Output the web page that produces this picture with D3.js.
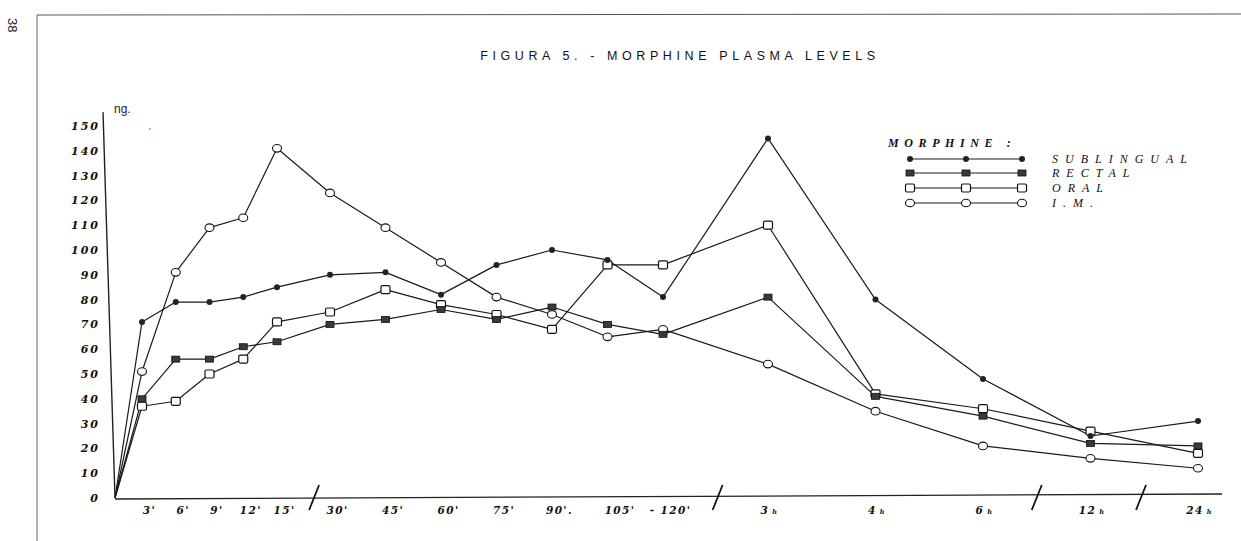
<!DOCTYPE html>
<html>
<head>
<meta charset="utf-8">
<script src="https://cdn.jsdelivr.net/npm/d3@7/dist/d3.min.js"></script>
<style>
  html, body { margin: 0; padding: 0; background: #fff; }
  svg { display: block; }
</style>
</head>
<body>
<div id="chart"></div>
<script>
// ---------- data ----------
const categories = ["0", "3'", "6'", "9'", "12'", "15'", "30'", "45'", "60'", "75'", "90'", "105'", "120'", "3h", "4h", "6h", "12h", "24h"];
const tickLabels = ["", "3'", "6'", "9'", "12'", "15'", "30'", "45'", "60'", "75'", "90'.", "105'", "- 120'", "3", "4", "6", "12", "24"];
const sublingual = [0, 71, 79, 79, 81, 85, 90, 91, 82, 94, 100, 96, 81, 145, 80, 48, 25, 31];
const rectal     = [0, 40, 56, 56, 61, 63, 70, 72, 76, 72, 77, 70, 66, 81, 41, 33, 22, 21];
const oral       = [0, 37, 39, 50, 56, 71, 75, 84, 78, 74, 68, 94, 94, 110, 42, 36, 27, 18];
const im         = [0, 51, 91, 109, 113, 141, 123, 109, 95, 81, 74, 65, 68, 54, 35, 21, 16, 12];
const seriesNames = ["SUBLINGUAL", "RECTAL", "ORAL", "I.M."];
const yTicks = [0, 10, 20, 30, 40, 50, 60, 70, 80, 90, 100, 110, 120, 130, 140, 150];
const breaks = [5.7, 12.52, 15.5, 16.47];

// ---------- setup ----------
const W = 1241, H = 541;
const svg = d3.select("#chart").append("svg").attr("width", W).attr("height", H);

const serif = "'DejaVu Serif', 'Liberation Serif', serif";
const lserif = "'Liberation Serif', 'DejaVu Serif', serif";
const sans = "'Liberation Sans', Arial, sans-serif";

// piecewise index scale (broken time axis)
const x = d3.scaleLinear()
  .domain([0, 1, 5, 6, 12, 13, 17])
  .range([115, 142, 277, 330, 663, 768, 1198]);
const y = d3.scaleLinear().domain([0, 150]).range([498, 126]);

// ---------- page frame ----------
svg.append("line").attr("x1", 37).attr("y1", 15).attr("x2", W).attr("y2", 14)
  .attr("stroke", "#555").attr("stroke-width", 1);
svg.append("line").attr("x1", 37).attr("y1", 15).attr("x2", 37).attr("y2", H)
  .attr("stroke", "#666").attr("stroke-width", 1);
svg.append("text").attr("transform", "translate(8,18) rotate(90)")
  .attr("font-family", sans).attr("font-size", 13).attr("fill", "#222").text("38");

// ---------- title ----------
svg.append("text").attr("x", 680).attr("y", 60).attr("text-anchor", "middle")
  .attr("font-family", sans).attr("font-size", 12.5).attr("letter-spacing", 4.6)
  .attr("fill", "#111").text("FIGURA 5. - MORPHINE PLASMA LEVELS");

// ---------- axes ----------
svg.append("line")
  .attr("x1", x(0)).attr("y1", y(0))
  .attr("x2", x(0) - 12).attr("y2", y(155.6))
  .attr("stroke", "#222").attr("stroke-width", 1.4);
svg.append("text").attr("x", 114).attr("y", 113)
  .attr("font-family", sans).attr("font-size", 12).attr("fill", "#222").text("ng.");
svg.append("text").attr("x", 149).attr("y", 134)
  .attr("font-family", sans).attr("font-size", 9).attr("fill", "#444").text("'");

const yAxis = d3.axisLeft(y).tickValues(yTicks).tickSize(0).tickPadding(3);
const gy = svg.append("g").attr("transform", "translate(103,0)").call(yAxis);
gy.select(".domain").remove();
gy.selectAll("text")
  .attr("font-family", serif).attr("font-style", "italic").attr("font-weight", "bold")
  .attr("font-size", 11).attr("letter-spacing", 2).attr("fill", "#111");

svg.append("line")
  .attr("x1", x(0)).attr("y1", y(0) + 1)
  .attr("x2", x(17) + 24).attr("y2", y(0) - 4)
  .attr("stroke", "#222").attr("stroke-width", 1.3);

const idx = d3.range(1, categories.length);
const xAxis = d3.axisBottom(x).tickValues(idx).tickSize(0).tickPadding(9)
  .tickFormat(i => tickLabels[i]);
const gx = svg.append("g").attr("transform", `translate(0,${y(0)})`).call(xAxis);
gx.select(".domain").remove();
gx.selectAll("text")
  .attr("font-family", serif).attr("font-style", "italic").attr("font-weight", "bold")
  .attr("font-size", 10.5).attr("letter-spacing", 1.4).attr("fill", "#111")
  .attr("dx", i => (i >= 13 ? 1 : (i === 11 ? 12 : 7)));
gx.selectAll("text").filter(i => i >= 13)
  .append("tspan").attr("font-size", 6.5).attr("dx", 3).text("h");

// axis breaks
breaks.forEach(b => {
  svg.append("line")
    .attr("x1", x(b) + 5).attr("y1", y(0) - 13)
    .attr("x2", x(b) - 5).attr("y2", y(0) + 12)
    .attr("stroke", "#111").attr("stroke-width", 1.8);
});

// ---------- series ----------
const seriesData = [sublingual, rectal, oral, im];
const line = d3.line().x((d, i) => x(i)).y(d => y(d));
const lines = svg.append("g");
seriesData.forEach(s => {
  lines.append("path").datum(s).attr("d", line)
    .attr("fill", "none").attr("stroke", "#1a1a1a").attr("stroke-width", 1.2)
    .attr("stroke-linejoin", "round");
});

function marker(g, k, cx, cy) {
  if (k === 0) {
    g.append("circle").attr("cx", cx).attr("cy", cy).attr("r", 3).attr("fill", "#222");
  } else if (k === 1) {
    g.append("rect").attr("x", cx - 4).attr("y", cy - 3).attr("width", 8).attr("height", 6)
      .attr("fill", "#3a3a3a").attr("stroke", "#111").attr("stroke-width", 0.8);
  } else if (k === 2) {
    g.append("rect").attr("x", cx - 4.5).attr("y", cy - 4).attr("width", 9).attr("height", 8)
      .attr("rx", 1.5).attr("fill", "#fff").attr("stroke", "#111").attr("stroke-width", 1.2);
  } else {
    g.append("ellipse").attr("cx", cx).attr("cy", cy).attr("rx", 4.5).attr("ry", 3.8)
      .attr("fill", "#fff").attr("stroke", "#111").attr("stroke-width", 1.1);
  }
}

const marks = svg.append("g");
[3, 2, 1, 0].forEach(k => {
  seriesData[k].forEach((v, i) => {
    if (i === 0) return;
    marker(marks, k, x(i), y(v));
  });
});

// ---------- legend ----------
const leg = svg.append("g");
leg.append("text").attr("x", 888).attr("y", 147)
  .attr("font-family", lserif).attr("font-style", "italic").attr("font-weight", "bold")
  .attr("font-size", 12).attr("letter-spacing", 5.6).attr("fill", "#111").text("MORPHINE :");
const legY = [159, 173, 188, 203];
seriesNames.forEach((name, k) => {
  const ly = legY[k];
  leg.append("line").attr("x1", 910).attr("x2", 1022).attr("y1", ly).attr("y2", ly)
    .attr("stroke", "#1a1a1a").attr("stroke-width", 1.1);
  [910, 966, 1022].forEach(mx => marker(leg, k, mx, ly));
  leg.append("text").attr("x", 1052).attr("y", ly + 4)
    .attr("font-family", lserif).attr("font-style", "italic")
    .attr("font-size", 12).attr("letter-spacing", 7).attr("fill", "#111").text(name);
});
</script>
</body>
</html>
